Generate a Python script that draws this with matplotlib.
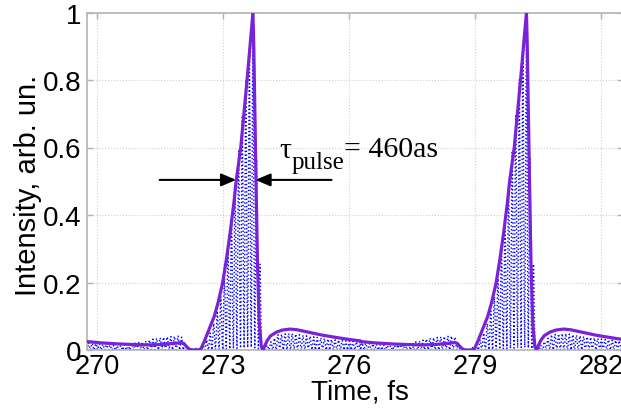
import numpy as np
import matplotlib
matplotlib.use("Agg")
import matplotlib.pyplot as plt

plt.rcParams['font.family'] = ['Liberation Sans', 'DejaVu Sans']

# Envelope of one attosecond pulse, time measured from the pulse maximum (fs)
env_t = [-3.95, -3.60, -3.20, -2.80, -2.43, -2.10, -1.85, -1.70, -1.64, -1.58,
         -1.52, -1.45, -1.30, -1.24, -1.16, -1.08, -1.00, -0.92, -0.82, -0.72,
         -0.63, -0.54, -0.45, -0.40, -0.29, -0.14, 0.00, 0.02, 0.06, 0.08,
         0.11, 0.15, 0.20, 0.24, 0.28, 0.34, 0.42, 0.56, 0.70, 0.88,
         1.05, 1.35, 1.65, 1.99, 2.30, 2.56]
env_v = [0.025, 0.021, 0.018, 0.016, 0.015, 0.017, 0.020, 0.022, 0.019, 0.010,
         0.003, 0.000, 0.000, 0.003, 0.025, 0.050, 0.075, 0.100, 0.145, 0.200,
         0.270, 0.350, 0.440, 0.500, 0.600, 0.800, 1.000, 0.900, 0.600, 0.450,
         0.250, 0.080, 0.010, 0.000, 0.012, 0.028, 0.042, 0.053, 0.059, 0.062,
         0.060, 0.052, 0.044, 0.037, 0.031, 0.027]

# Amplitude of the fast oscillating intensity (dotted curve), same time axis
osc_t = [-3.95, -3.20, -2.60, -2.30, -2.00, -1.72, -1.66, -1.58, -1.45, -1.20,
         -1.05, -0.90, -0.70, -0.50, -0.30, -0.15, 0.00, 0.08, 0.13, 0.17,
         0.21, 0.25, 0.34, 0.60, 0.90, 1.30, 1.90, 2.56]
osc_v = [0.022, 0.012, 0.025, 0.035, 0.040, 0.042, 0.032, 0.006, 0.002, 0.010,
         0.040, 0.090, 0.190, 0.400, 0.640, 0.830, 0.950, 0.600, 0.400, 0.270,
         0.030, 0.004, 0.014, 0.046, 0.050, 0.042, 0.031, 0.024]

peak_times = [273.71, 280.22]     # fs
carrier_period = 0.085            # fs
pulse_fwhm = 0.46                 # fs  (460 as)

x_ticks = [270, 273, 276, 279, 282]
y_ticks = [0, 0.2, 0.4, 0.6, 0.8, 1]
y_tick_labels = ['0', '0.2', '0.4', '0.6', '0.8', '1']

purple = '#7a22d8'
grey = '#b4b4b4'

fig = plt.figure(figsize=(6.21, 4.14), dpi=100)
ax = fig.add_axes([87 / 621, 1 - 351 / 414, 1 - 87 / 621 + 0.004, 337.5 / 414])

# Build both traces pulse by pulse
env_x, env_y, osc_x, osc_y = [], [], [], []
for tp in peak_times:
    env_x.extend(tp + np.asarray(env_t))
    env_y.extend(env_v)
    tt = np.arange(env_t[0], env_t[-1], carrier_period / 6)
    amp = np.interp(tt, osc_t, osc_v)
    osc_x.extend(tp + tt)
    osc_y.extend(amp * np.cos(np.pi * tt / carrier_period) ** 2)

ax.plot(osc_x, osc_y, ls=':', color='#0000ff', lw=1.0, zorder=2)
ax.plot(env_x, env_y, '-', color=purple, lw=2.3, zorder=3,
        solid_joinstyle='round')

ax.set_xlim(269.76, 282.53)
ax.set_ylim(0, 1)
ax.set_xticks(x_ticks)
ax.set_xticklabels([str(v) for v in x_ticks])
ax.set_yticks(y_ticks)
ax.set_yticklabels(y_tick_labels)
ax.tick_params(direction='in', length=4, width=1, color=grey,
               labelsize=20, top=True, right=True)
ax.tick_params(axis='x', pad=2, labelsize=19.5)
ax.tick_params(axis='y', pad=4)
ax.grid(True, ls=':', color='#d0d0d0', lw=0.8)
for side in ('left', 'top', 'bottom'):
    ax.spines[side].set_color(grey)
    ax.spines[side].set_linewidth(1.2)
ax.spines['right'].set_visible(False)

ax.set_xlabel('Time, fs', fontsize=20)
ax.xaxis.set_label_coords(0.508, -0.084)
ax.set_ylabel('Intensity, arb. un.', fontsize=21)
ax.yaxis.set_label_coords(-0.084, 0.49)

# Pulse-duration marker at half maximum
rise = slice(env_t.index(-0.72), env_t.index(0.00) + 1)
left_edge = peak_times[0] + np.interp(0.5, env_v[rise], env_t[rise])
right_edge = left_edge + pulse_fwhm
arrow = dict(arrowstyle='-|>,head_length=0.75,head_width=0.32',
             color='black', lw=1.5, shrinkA=0, shrinkB=0, mutation_scale=12)
ax.annotate('', xy=(left_edge, 0.504), xytext=(271.49, 0.504), arrowprops=arrow)
ax.annotate('', xy=(right_edge, 0.504), xytext=(275.58, 0.504), arrowprops=arrow)

serif = ['Liberation Serif', 'DejaVu Serif']
ax.text(274.33, 0.572, 'τ', family=serif, fontsize=21.5, va='baseline', ha='left')
ax.text(274.62, 0.539, 'pulse', family=serif, fontsize=18, va='baseline', ha='left')
ax.text(275.87, 0.575, '= 460as', family=serif, fontsize=21.5, va='baseline', ha='left')

fig.savefig('out.png', dpi=100)
